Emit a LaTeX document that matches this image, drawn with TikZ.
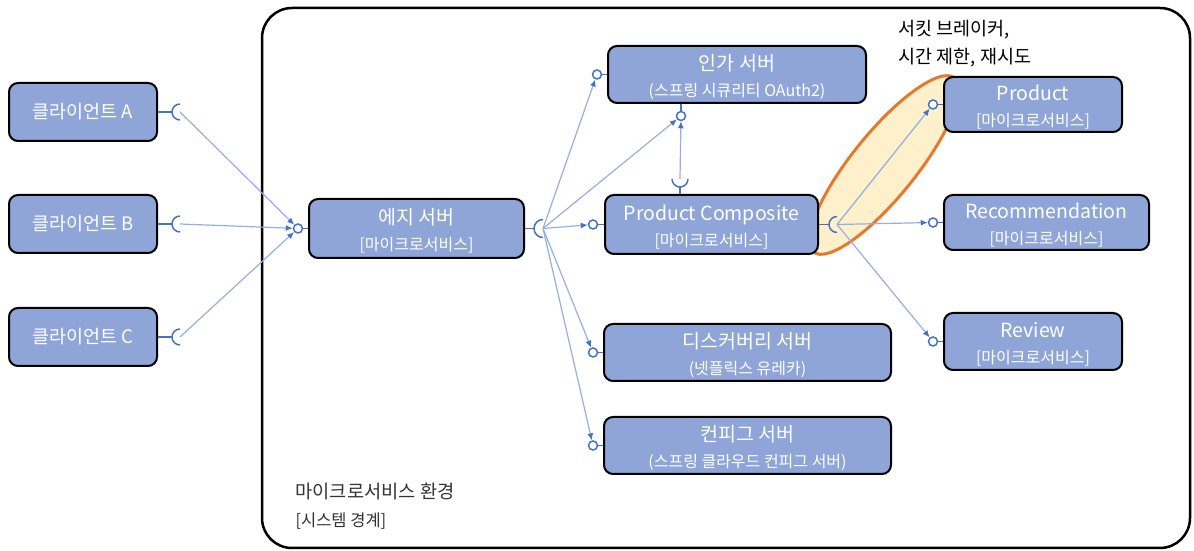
\documentclass[tikz,border=0pt]{standalone}
\usepackage{fontspec}
\setmainfont{Noto Sans CJK KR}
\usetikzlibrary{arrows.meta,shapes.geometric}
\definecolor{boxfill}{RGB}{143,165,215}
\definecolor{wirecol}{RGB}{150,175,225}
\definecolor{plug}{RGB}{68,114,196}
\definecolor{cbfill}{RGB}{253,240,202}
\definecolor{cbline}{RGB}{228,122,48}
\newcommand{\svcnote}[1]{{\fontsize{16}{26}\selectfont #1}}

\begin{document}
\begin{tikzpicture}[
  x=1pt, y=1pt,
  box/.style={draw=black, line width=2pt, rounded corners=9pt, fill=boxfill,
    text=white, align=center, inner sep=0pt},
  svc/.style={box, font=\fontsize{19.5}{26}\selectfont, text height=48pt, text depth=3.6pt},
  client/.style={box, minimum width=148pt, minimum height=58pt, font=\fontsize{18.5}{26}\selectfont},
  ball/.style={circle, draw=plug, line width=1.5pt, fill=white, inner sep=0pt, minimum size=9pt},
  stub/.style={draw=plug, line width=1.5pt},
  wire/.style={draw=wirecol, line width=1.2pt, -{Latex[length=7pt, width=6pt, color=plug]}}
]
  \useasboundingbox (0,0) rectangle (1194,551);

  % system boundary
  \node[draw, line width=2.5pt, rounded corners=30pt, minimum width=928pt, minimum height=540pt] (env) at (726,273) {};
  \node[anchor=west, align=left, text=black!80, font=\fontsize{18.7}{28}\selectfont] (envlabel) at (292,45)
    {마이크로서비스 환경\\{\fontsize{16.5}{28}\selectfont [시스템 경계]}};

  % circuit breaker zone
  \node[draw=cbline, fill=cbfill, line width=3pt, ellipse, inner sep=0pt,
    minimum width=224pt, minimum height=64pt, rotate=51] (cb) at (884,386) {};
  \node[anchor=west, align=left, font=\fontsize{18.5}{28}\selectfont] (cbnote) at (895,507)
    {서킷 브레이커,\\시간 제한, 재시도};

  % services
  \node[client] (cA) at (83,439) {클라이언트 A};
  \node[client] (cB) at (83,327) {클라이언트 B};
  \node[client] (cC) at (83,214) {클라이언트 C};
  \node[svc, minimum width=215pt, minimum height=59pt] (edge) at (416.5,322.5) {에지 서버\\\svcnote{[마이크로서비스]}};
  \node[svc, minimum width=258pt, minimum height=57pt] (auth) at (737,476.5) {인가 서버\\\svcnote{(스프링 시큐리티 OAuth2)}};
  \node[svc, minimum width=213pt, minimum height=59pt] (comp) at (711.5,326.5) {Product Composite\\\svcnote{[마이크로서비스]}};
  \node[svc, minimum width=287pt, minimum height=57pt] (disc) at (747.5,198.5) {디스커버리 서버\\\svcnote{(넷플릭스 유레카)}};
  \node[svc, minimum width=287pt, minimum height=57pt] (conf) at (747.5,105.5) {컨피그 서버\\\svcnote{(스프링 클라우드 컨피그 서버)}};
  \node[svc, minimum width=178pt, minimum height=55pt] (prod) at (1033,446.5) {Product\\\svcnote{[마이크로서비스]}};
  \node[svc, minimum width=205pt, minimum height=55pt] (rec) at (1046.5,328.5) {Recommendation\\\svcnote{[마이크로서비스]}};
  \node[svc, minimum width=178pt, minimum height=57pt] (rev) at (1033,209.5) {Review\\\svcnote{[마이크로서비스]}};

  % provided interfaces
  \node[ball] (bEdge) at (298,322.5) {};
  \node[ball] (bAuth) at (597,476.5) {};
  \node[ball] (bAuthDn) at (681,435) {};
  \node[ball] (bComp) at (593,326.5) {};
  \node[ball] (bDisc) at (593,198.5) {};
  \node[ball] (bConf) at (593,105.5) {};
  \node[ball] (bProd) at (933,446.5) {};
  \node[ball] (bRec) at (933,328.5) {};
  \node[ball] (bRev) at (933,209.5) {};
  \draw[stub] (bEdge) -- (edge.west);
  \draw[stub] (bAuth) -- (auth.west);
  \draw[stub] (bAuthDn) -- (bAuthDn |- auth.south);
  \draw[stub] (bComp) -- (comp.west);
  \draw[stub] (bDisc) -- (disc.west);
  \draw[stub] (bConf) -- (conf.west);
  \draw[stub] (bProd) -- (prod.west);
  \draw[stub] (bRec) -- (rec.west);
  \draw[stub] (bRev) -- (rev.west);

  % required interfaces
  \coordinate (sA) at (180,439);
  \coordinate (sB) at (180,327);
  \coordinate (sC) at (180,214);
  \coordinate (sEdge) at (543,322.5);
  \coordinate (sCompUp) at (680,372);
  \coordinate (sCompR) at (837,326.5);
  \draw[stub] (cA.east) -- ([xshift=-8pt]sA);
  \draw[stub] ([yshift=8pt]sA) arc[start angle=90, end angle=270, radius=8pt];
  \draw[stub] (cB.east) -- ([xshift=-8pt]sB);
  \draw[stub] ([yshift=8pt]sB) arc[start angle=90, end angle=270, radius=8pt];
  \draw[stub] (cC.east) -- ([xshift=-8pt]sC);
  \draw[stub] ([yshift=8pt]sC) arc[start angle=90, end angle=270, radius=8pt];
  \draw[stub] (edge.east) -- ([xshift=-9pt]sEdge);
  \draw[stub] ([yshift=9pt]sEdge) arc[start angle=90, end angle=270, radius=9pt];
  \draw[stub] (comp.north -| sCompUp) -- ([yshift=-8pt]sCompUp);
  \draw[stub] ([xshift=-8pt]sCompUp) arc[start angle=180, end angle=360, radius=8pt];
  \draw[stub] (comp.east) -- ([xshift=-8pt]sCompR);
  \draw[stub] ([yshift=8pt]sCompR) arc[start angle=90, end angle=270, radius=8pt];

  % calls
  \draw[wire] (sA) -- (bEdge);
  \draw[wire] (sB) -- (bEdge);
  \draw[wire] (sC) -- (bEdge);
  \draw[wire] (sEdge) -- (bAuth);
  \draw[wire] (sEdge) -- (bAuthDn);
  \draw[wire] (sEdge) -- (bComp);
  \draw[wire] (sEdge) -- (bDisc);
  \draw[wire] (sEdge) -- (bConf);
  \draw[wire] (sCompUp) -- (bAuthDn);
  \draw[wire] (sCompR) -- (bProd);
  \draw[wire] (sCompR) -- (bRec);
  \draw[wire] (sCompR) -- (bRev);
\end{tikzpicture}
\end{document}
